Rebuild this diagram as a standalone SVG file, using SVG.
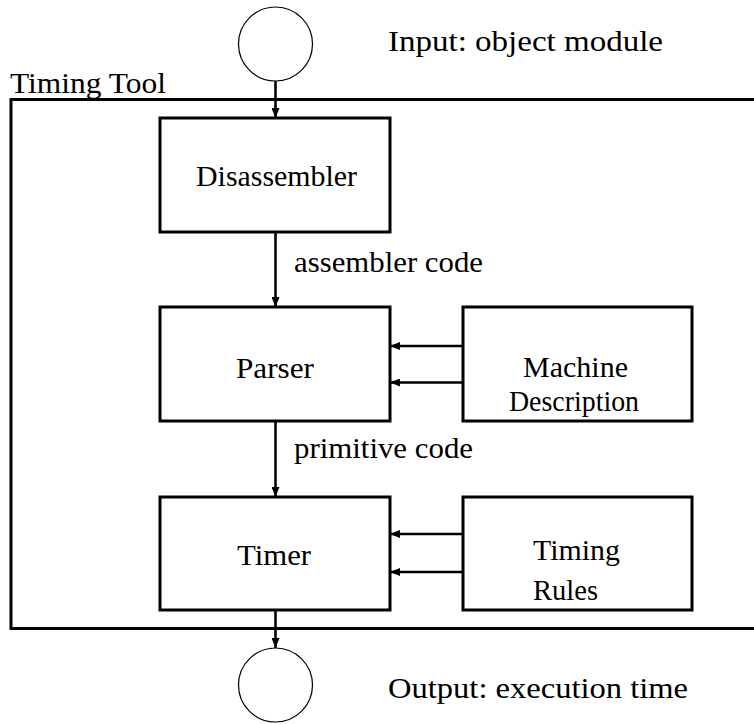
<svg xmlns="http://www.w3.org/2000/svg" width="754" height="724" viewBox="0 0 754 724" font-family="'Liberation Serif', 'DejaVu Serif', serif">
<style>
text{font-family:"Liberation Serif","DejaVu Serif",serif;font-size:30px;fill:#000}
.box{fill:#fff;stroke:#000;stroke-width:3}
.circ{fill:#fff;stroke:#000;stroke-width:1.2}
.frame{fill:none;stroke:#000;stroke-width:3}
.conn{stroke:#000;stroke-width:2.6;fill:none}
</style>
<defs>
<marker id="ah" markerUnits="userSpaceOnUse" markerWidth="10" markerHeight="8" viewBox="0 0 10 8" refX="10" refY="4" orient="auto">
<path d="M0,0 L10,4 L0,8 z" fill="#000"/>
</marker>
</defs>
<rect width="754" height="724" fill="#fff"/>
<g id="frame">
<path class="frame" d="M757,99.5 H11 V628.5 H757"/>
<text x="10" y="93" textLength="156" lengthAdjust="spacingAndGlyphs">Timing Tool</text>
</g>
<g id="connectors">
<line class="conn" x1="275.5" y1="81" x2="275.5" y2="118" marker-end="url(#ah)"/>
<line class="conn" x1="275.5" y1="232" x2="275.5" y2="307" marker-end="url(#ah)"/>
<line class="conn" x1="275.5" y1="421" x2="275.5" y2="497" marker-end="url(#ah)"/>
<line class="conn" x1="275.5" y1="610" x2="275.5" y2="648" marker-end="url(#ah)"/>
<line class="conn" x1="463" y1="346" x2="390" y2="346" marker-end="url(#ah)"/>
<line class="conn" x1="463" y1="382.5" x2="390" y2="382.5" marker-end="url(#ah)"/>
<line class="conn" x1="463" y1="534" x2="390" y2="534" marker-end="url(#ah)"/>
<line class="conn" x1="463" y1="572" x2="390" y2="572" marker-end="url(#ah)"/>
<text x="294" y="272" textLength="189" lengthAdjust="spacingAndGlyphs">assembler code</text>
<text x="294" y="458" textLength="179" lengthAdjust="spacingAndGlyphs">primitive code</text>
</g>
<g id="input">
<circle class="circ" cx="275.5" cy="44" r="37"/>
<text x="388" y="51" textLength="275" lengthAdjust="spacingAndGlyphs">Input: object module</text>
</g>
<g id="disassembler">
<rect class="box" x="160" y="118" width="230" height="114"/>
<text x="196" y="186" textLength="161" lengthAdjust="spacingAndGlyphs">Disassembler</text>
</g>
<g id="parser">
<rect class="box" x="160" y="307" width="230" height="114"/>
<text x="236" y="378" textLength="78" lengthAdjust="spacingAndGlyphs">Parser</text>
</g>
<g id="machine-description">
<rect class="box" x="463" y="307" width="229" height="114"/>
<text x="523" y="377" textLength="105" lengthAdjust="spacingAndGlyphs">Machine</text>
<text x="509" y="411" textLength="130" lengthAdjust="spacingAndGlyphs">Description</text>
</g>
<g id="timer">
<rect class="box" x="160" y="497" width="230" height="113"/>
<text x="237" y="565" textLength="74" lengthAdjust="spacingAndGlyphs">Timer</text>
</g>
<g id="timing-rules">
<rect class="box" x="463" y="497" width="229" height="113"/>
<text x="533" y="560" textLength="87" lengthAdjust="spacingAndGlyphs">Timing</text>
<text x="533" y="600" textLength="65" lengthAdjust="spacingAndGlyphs">Rules</text>
</g>
<g id="output">
<circle class="circ" cx="275.5" cy="685" r="37"/>
<text x="388" y="698" textLength="300" lengthAdjust="spacingAndGlyphs">Output: execution time</text>
</g>
</svg>
